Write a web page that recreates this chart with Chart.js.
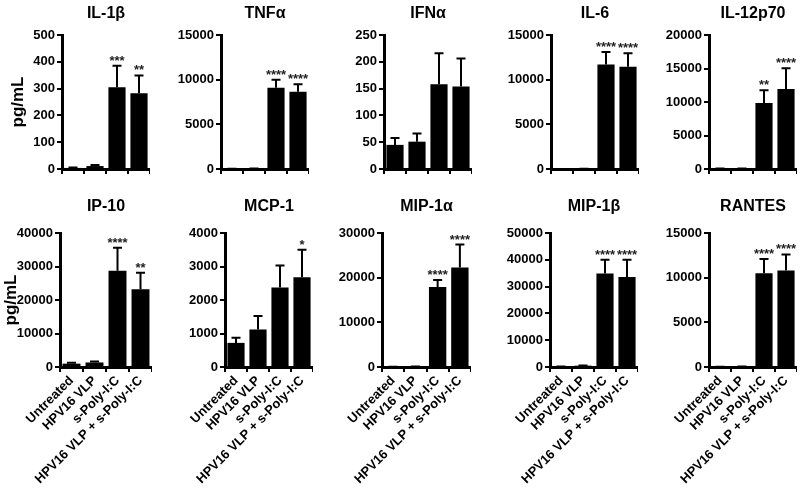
<!DOCTYPE html>
<html>
<head>
<meta charset="utf-8">
<script src="https://cdn.jsdelivr.net/npm/chart.js@4"></script>
<style>
  html, body { margin: 0; padding: 0; background: #fff; }
  body { width: 800px; height: 502px; position: relative; overflow: hidden; }
  .panel { position: absolute; }
</style>
</head>
<body>
<script>
// treatment groups (x categories)
const groups = ["Untreated", "HPV16 VLP", "s-Poly-I:C", "HPV16 VLP + s-Poly-I:C"];

// mean, SD and significance for each cytokine (pg/mL)
const il1bMean = [4, 11, 305, 283];
const il1bSd = [2, 4, 80, 66];
const il1bStars = ["", "", "***", "**"];

const tnfaMean = [10, 30, 9100, 8650];
const tnfaSd = [5, 15, 900, 850];
const tnfaStars = ["", "", "****", "****"];

const ifnaMean = [45, 51, 158, 154];
const ifnaSd = [13, 15, 58, 52];
const ifnaStars = ["", "", "", ""];

const il6Mean = [5, 10, 11700, 11450];
const il6Sd = [2, 5, 1400, 1500];
const il6Stars = ["", "", "****", "****"];

const il12Mean = [60, 60, 9850, 11950];
const il12Sd = [10, 10, 1900, 3100];
const il12Stars = ["", "", "**", "****"];

const ip10Mean = [1000, 1350, 28700, 23200];
const ip10Sd = [300, 300, 6900, 4900];
const ip10Stars = ["", "", "****", "**"];

const mcp1Mean = [720, 1120, 2370, 2680];
const mcp1Sd = [150, 400, 660, 820];
const mcp1Stars = ["", "", "", "*"];

const mip1aMean = [50, 80, 17900, 22300];
const mip1aSd = [10, 20, 1600, 5100];
const mip1aStars = ["", "", "****", "****"];

const mip1bMean = [150, 500, 34900, 33600];
const mip1bSd = [30, 100, 5100, 6400];
const mip1bStars = ["", "", "****", "****"];

const rantesMean = [30, 40, 10500, 10800];
const rantesSd = [10, 10, 1600, 1800];
const rantesStars = ["", "", "****", "****"];

// y axis ranges
const yMax = [500, 15000, 250, 15000, 20000, 40000, 4000, 30000, 50000, 15000];
const yStep = [100, 5000, 50, 5000, 5000, 10000, 1000, 10000, 10000, 5000];

const panels = [
  { title: "IL-1β", mean: il1bMean, sd: il1bSd, stars: il1bStars },
  { title: "TNFα", mean: tnfaMean, sd: tnfaSd, stars: tnfaStars },
  { title: "IFNα", mean: ifnaMean, sd: ifnaSd, stars: ifnaStars },
  { title: "IL-6", mean: il6Mean, sd: il6Sd, stars: il6Stars },
  { title: "IL-12p70", mean: il12Mean, sd: il12Sd, stars: il12Stars },
  { title: "IP-10", mean: ip10Mean, sd: ip10Sd, stars: ip10Stars },
  { title: "MCP-1", mean: mcp1Mean, sd: mcp1Sd, stars: mcp1Stars },
  { title: "MIP-1α", mean: mip1aMean, sd: mip1aSd, stars: mip1aStars },
  { title: "MIP-1β", mean: mip1bMean, sd: mip1bSd, stars: mip1bStars },
  { title: "RANTES", mean: rantesMean, sd: rantesSd, stars: rantesStars },
];

// page geometry: y axis position and right end of each plot
const axisLeft = [62, 221, 384, 551, 709, 60, 225, 382, 550, 709];
const axisRight = [150, 309, 472, 639, 797, 152, 313, 471, 638, 797];

const FONT = "Arial, 'Liberation Sans', Helvetica, sans-serif";
Chart.defaults.font.family = FONT;
Chart.defaults.color = "#000";

// upward SD whiskers + significance stars
const errorBars = {
  id: "errorBars",
  afterDatasetsDraw(chart, args, opts) {
    const ctx = chart.ctx;
    const y = chart.scales.y;
    const meta = chart.getDatasetMeta(0);
    const vals = chart.data.datasets[0].data;
    ctx.save();
    ctx.strokeStyle = "#000";
    ctx.lineWidth = 2;
    ctx.fillStyle = "#222";
    ctx.font = "bold 13px " + FONT;
    ctx.textAlign = "center";
    ctx.textBaseline = "alphabetic";
    meta.data.forEach((bar, i) => {
      const top = y.getPixelForValue(vals[i] + opts.sd[i]);
      ctx.beginPath();
      ctx.moveTo(bar.x, bar.y);
      ctx.lineTo(bar.x, top);
      ctx.moveTo(bar.x - 4.5, top);
      ctx.lineTo(bar.x + 4.5, top);
      ctx.stroke();
      if (opts.stars[i]) ctx.fillText(opts.stars[i], bar.x, top - 1);
    });
    ctx.restore();
  }
};

panels.forEach((p, k) => {
  const bottomRow = k >= 5;
  const firstCol = k % 5 === 0;
  const yW = firstCol ? axisLeft[k] : 60;
  const left = axisLeft[k] - yW;
  const top = bottomRow ? 193 : 0;
  const plotTop = bottomRow ? 233 : 35;
  const plotBottom = bottomRow ? 367 : 169;
  const xH = bottomRow ? 130 : 10;
  const height = plotBottom - top + xH;
  const width = axisRight[k] - left;

  const div = document.createElement("div");
  div.className = "panel";
  div.style.left = left + "px";
  div.style.top = top + "px";
  div.style.width = width + "px";
  div.style.height = height + "px";
  const canvas = document.createElement("canvas");
  div.appendChild(canvas);
  document.body.appendChild(div);

  new Chart(canvas, {
    type: "bar",
    data: {
      labels: groups,
      datasets: [{
        data: p.mean,
        backgroundColor: "#000",
        borderWidth: 0,
        barPercentage: 0.78,
        categoryPercentage: 1,
      }],
    },
    options: {
      responsive: true,
      maintainAspectRatio: false,
      animation: false,
      layout: { padding: 0 },
      plugins: {
        legend: { display: false },
        tooltip: { enabled: false },
        title: {
          display: true,
          text: p.title,
          fullSize: false,
          font: { size: 16, weight: "bold" },
          padding: { top: 4, bottom: plotTop - top - 4 - 19.2 },
        },
        errorBars: { sd: p.sd, stars: p.stars },
      },
      scales: {
        x: {
          grid: { drawOnChartArea: false, drawTicks: true, tickLength: 5, color: "#000", lineWidth: 2 },
          border: { color: "#000", width: 3 },
          ticks: {
            display: bottomRow,
            autoSkip: false,
            minRotation: 45,
            maxRotation: 45,
            padding: 1,
            font: { size: 13, weight: "bold" },
          },
          afterFit(s) { s.height = xH; s.paddingLeft = 0; s.paddingRight = 0; },
        },
        y: {
          min: 0,
          max: yMax[k],
          grid: { drawOnChartArea: false, drawTicks: true, tickLength: 5, color: "#000", lineWidth: 2 },
          border: { color: "#000", width: 3 },
          ticks: {
            stepSize: yStep[k],
            padding: 2,
            font: { size: 13, weight: "bold" },
            callback: (v) => String(v),
          },
          title: {
            display: firstCol,
            text: "pg/mL",
            font: { size: 17, weight: "bold" },
            padding: { top: bottomRow ? 1 : 8, bottom: 0 },
          },
          afterFit(s) { s.width = yW; s.paddingTop = 0; s.paddingBottom = 0; },
        },
      },
    },
    plugins: [errorBars],
  });
});
</script>
</body>
</html>
